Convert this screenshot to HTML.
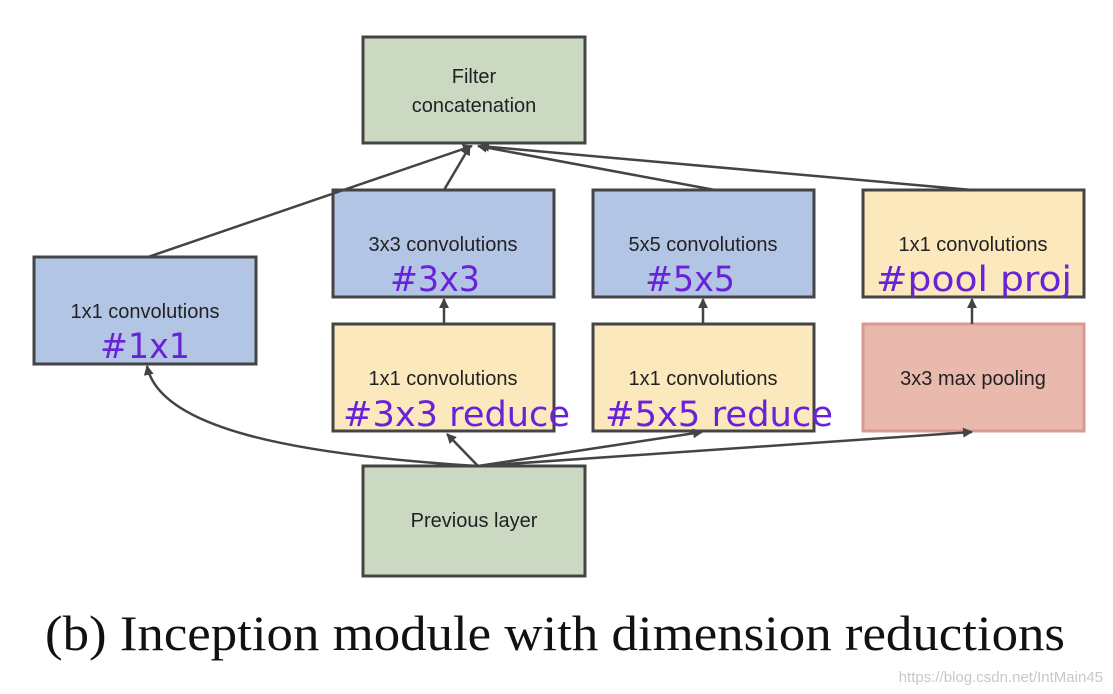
<!DOCTYPE html>
<html><head><meta charset="utf-8"><style>
html,body{margin:0;padding:0;background:#fff;}
svg{display:block;}
.l{font-family:"Liberation Sans",Arial,sans-serif;font-size:20px;fill:#222;text-anchor:middle;}
.p{font-family:"DejaVu Sans","Liberation Sans",sans-serif;font-size:35px;fill:#6a22d8;}
</style></head><body>
<svg width="1113" height="694" viewBox="0 0 1113 694" xmlns="http://www.w3.org/2000/svg">
<defs><marker id="a" markerWidth="10" markerHeight="10" refX="9" refY="5" orient="auto" markerUnits="userSpaceOnUse"><path d="M0,0 L10,5 L0,10 z" fill="#444"/></marker></defs>
<g stroke="#444" stroke-width="3">
<rect x="363" y="37" width="222" height="106" fill="#cbd8c2"/>
<rect x="34" y="257" width="222" height="107" fill="#b3c5e5"/>
<rect x="333" y="190" width="221" height="107" fill="#b3c5e5"/>
<rect x="333" y="324" width="221" height="107" fill="#fbe8bd"/>
<rect x="593" y="190" width="221" height="107" fill="#b3c5e5"/>
<rect x="593" y="324" width="221" height="107" fill="#fbe8bd"/>
<rect x="863" y="190" width="221" height="107" fill="#fbe8bd"/>
<rect x="863" y="324" width="221" height="107" fill="#e9b9ae" stroke="#d89a90"/>
<rect x="363" y="466" width="222" height="110" fill="#cbd8c2"/>
</g>
<g stroke="#444" stroke-width="2.5" fill="none" marker-end="url(#a)">
<line x1="148" y1="257" x2="472" y2="146"/>
<line x1="444" y1="190" x2="470" y2="146"/>
<line x1="715" y1="190" x2="478" y2="146"/>
<line x1="972" y1="190" x2="480" y2="146"/>
<line x1="444" y1="324" x2="444" y2="299"/>
<line x1="703" y1="324" x2="703" y2="299"/>
<line x1="972" y1="324" x2="972" y2="299"/>
<path d="M478,466 C300,455 160,430 147,366"/>
<line x1="478" y1="466" x2="447" y2="434"/>
<line x1="478" y1="466" x2="702" y2="432"/>
<line x1="478" y1="466" x2="972" y2="432"/>
</g>
<text class="l" x="474" y="83">Filter</text>
<text class="l" x="474" y="112">concatenation</text>
<text class="l" x="145" y="318">1x1 convolutions</text>
<text class="p" x="100" y="358" textLength="90" lengthAdjust="spacingAndGlyphs">#1x1</text>
<text class="l" x="443" y="251">3x3 convolutions</text>
<text class="p" x="390" y="291" textLength="90" lengthAdjust="spacingAndGlyphs">#3x3</text>
<text class="l" x="443" y="385">1x1 convolutions</text>
<text class="p" x="343" y="426" textLength="227" lengthAdjust="spacingAndGlyphs">#3x3 reduce</text>
<text class="l" x="703" y="251">5x5 convolutions</text>
<text class="p" x="645" y="291" textLength="90" lengthAdjust="spacingAndGlyphs">#5x5</text>
<text class="l" x="703" y="385">1x1 convolutions</text>
<text class="p" x="605" y="426" textLength="228" lengthAdjust="spacingAndGlyphs">#5x5 reduce</text>
<text class="l" x="973" y="251">1x1 convolutions</text>
<text class="p" x="876" y="291" textLength="196" lengthAdjust="spacingAndGlyphs">#pool proj</text>
<text class="l" x="973" y="385">3x3 max pooling</text>
<text class="l" x="474" y="527">Previous layer</text>
<text x="45" y="650" textLength="1020" lengthAdjust="spacingAndGlyphs" style="font-family:'Liberation Serif',serif;font-size:50px;fill:#111">(b) Inception module with dimension reductions</text>
<text x="1103" y="682" text-anchor="end" style="font-family:'Liberation Sans',sans-serif;font-size:15px;fill:#c8c8c8">https://blog.csdn.net/IntMain45</text>
</svg>
</body></html>
